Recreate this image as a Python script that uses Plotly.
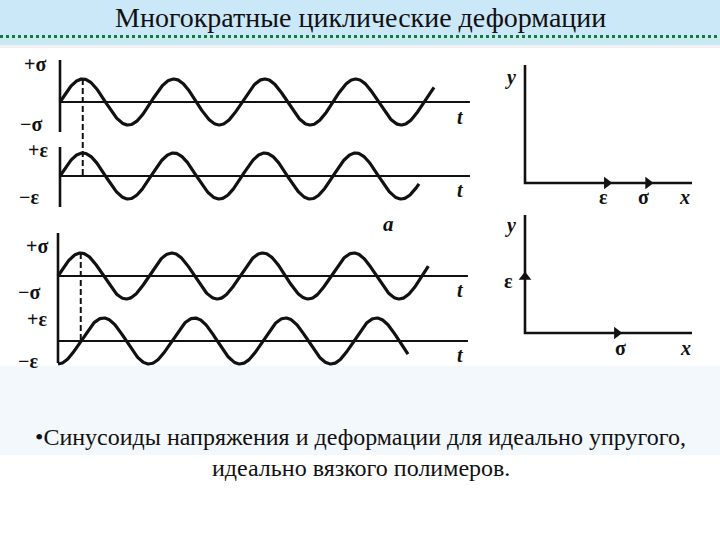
import numpy as np
import plotly.graph_objects as go

W, H = 720, 540

# ---------------- data ----------------
panel_names = ["elastic", "viscous"]
stress_len = [4.11, 4.07]          # length of stress sinusoid, periods
strain_len = [3.945, 3.846]        # length of strain sinusoid, periods
strain_lag = [0.0, 0.25]           # phase lag of strain behind stress, periods (0°, 90°)
axis_len = [4.505, 4.505]          # length of time axes, periods
first_peak = [0.25, 0.25]          # time of first stress peak, periods
left_labels = ["+σ", "−σ", "+ε", "−ε"]
vec_top_names = ["ε", "σ"]         # elastic: both vectors on x
vec_top_pos = [0.49, 0.737]
vec_bot_x_names = ["σ"]            # viscous: σ on x
vec_bot_x_pos = [0.55]
vec_bot_y_names = ["ε"]            # viscous: ε on y
vec_bot_y_pos = [0.475]

# ---------------- layout helpers ----------------
P = 91.0      # px per period
A = 23.0      # px per unit amplitude
def fx(p): return p / W
def fy(p): return 1 - p / H

panels = [
    dict(ox=60, base=102, strain_base=176, xr=[-0.45, 4.75], yr=[-4.9, 2.0],
         vaxes=[(1.826, -1.30), (-1.957, -4.565)]),
    dict(ox=58, base=276, strain_base=341, xr=[-0.45, 4.75], yr=[-4.0, 2.55],
         vaxes=[(1.87, -3.78)]),
]

fig = go.Figure()
BLK = "#111111"
layout_axes = {}

for i, pn in enumerate(panels):
    k = "" if i == 0 else str(i + 1)
    xa, ya = "x" + k, "y" + k
    dom_x = [fx(pn["ox"] + pn["xr"][0] * P), fx(pn["ox"] + pn["xr"][1] * P)]
    dom_y = [fy(pn["base"] - pn["yr"][0] * A), fy(pn["base"] - pn["yr"][1] * A)]
    layout_axes["xaxis" + k] = dict(domain=dom_x, range=pn["xr"], visible=False, anchor=ya, fixedrange=True)
    layout_axes["yaxis" + k] = dict(domain=dom_y, range=pn["yr"], visible=False, anchor=xa, fixedrange=True)
    off = -(pn["strain_base"] - pn["base"]) / A
    # time axes
    for b in (0, off):
        fig.add_trace(go.Scatter(x=[0, axis_len[i]], y=[b, b], mode="lines",
                                 line=dict(color=BLK, width=2.2), xaxis=xa, yaxis=ya, hoverinfo="skip"))
    # vertical axes
    for (y0, y1) in pn["vaxes"]:
        fig.add_trace(go.Scatter(x=[0, 0], y=[y0, y1], mode="lines",
                                 line=dict(color=BLK, width=2.6), xaxis=xa, yaxis=ya, hoverinfo="skip"))
    # stress
    t = np.linspace(0, stress_len[i], 500)
    fig.add_trace(go.Scatter(x=t, y=np.sin(2 * np.pi * t), mode="lines",
                             line=dict(color=BLK, width=3.2), xaxis=xa, yaxis=ya, hoverinfo="skip"))
    # strain
    t2 = np.linspace(0, strain_len[i], 500)
    fig.add_trace(go.Scatter(x=t2, y=off + np.sin(2 * np.pi * (t2 - strain_lag[i])), mode="lines",
                             line=dict(color=BLK, width=3.2), xaxis=xa, yaxis=ya, hoverinfo="skip"))
    # dashed marker line at first stress peak
    fig.add_trace(go.Scatter(x=[first_peak[i], first_peak[i]], y=[1, off], mode="lines",
                             line=dict(color=BLK, width=2, dash="6px,3px"), xaxis=xa, yaxis=ya, hoverinfo="skip"))

# vector diagrams
L_x, L_y = 167.0, 118.0
vecs = [dict(ox=525, oy=183), dict(ox=525, oy=333)]
for j, v in enumerate(vecs):
    k = str(j + 3)
    xa, ya = "x" + k, "y" + k
    xr, yr = [-0.15, 1.06], [-0.2, 1.08]
    layout_axes["xaxis" + k] = dict(domain=[fx(v["ox"] + xr[0] * L_x), fx(v["ox"] + xr[1] * L_x)],
                                    range=xr, visible=False, anchor=ya, fixedrange=True)
    layout_axes["yaxis" + k] = dict(domain=[fy(v["oy"] - yr[0] * L_y), fy(v["oy"] - yr[1] * L_y)],
                                    range=yr, visible=False, anchor=xa, fixedrange=True)
    fig.add_trace(go.Scatter(x=[0, 0, 1.0], y=[1.0, 0, 0], mode="lines",
                             line=dict(color=BLK, width=2.6), xaxis=xa, yaxis=ya, hoverinfo="skip"))
    if j == 0:
        fig.add_trace(go.Scatter(x=vec_top_pos, y=[0] * len(vec_top_pos), mode="markers",
                                 marker=dict(symbol="triangle-right", size=11, color=BLK),
                                 xaxis=xa, yaxis=ya, hoverinfo="skip"))
    else:
        fig.add_trace(go.Scatter(x=vec_bot_x_pos, y=[0] * len(vec_bot_x_pos), mode="markers",
                                 marker=dict(symbol="triangle-right", size=11, color=BLK),
                                 xaxis=xa, yaxis=ya, hoverinfo="skip"))
        fig.add_trace(go.Scatter(x=[0] * len(vec_bot_y_pos), y=vec_bot_y_pos, mode="markers",
                                 marker=dict(symbol="triangle-up", size=11, color=BLK),
                                 xaxis=xa, yaxis=ya, hoverinfo="skip"))

# ---------------- text ----------------
SERIF = "Liberation Serif, Times New Roman, Times, serif"
ann = []
def lab(text, px, py, size=20, italic=False, bold=True):
    t = text
    if bold:
        t = "<b>" + t + "</b>"
    if italic:
        t = "<i>" + t + "</i>"
    ann.append(dict(text=t, x=fx(px), y=fy(py), xref="paper", yref="paper", showarrow=False,
                    xanchor="center", yanchor="middle", font=dict(family=SERIF, size=size, color=BLK)))

# left labels, panel 1 and 2
for txt, px, py in zip(left_labels, [35, 31, 38, 29], [64, 124, 150, 197]):
    lab(txt, px, py)
for txt, px, py in zip(left_labels, [37, 29, 37, 28], [246, 292, 319, 361]):
    lab(txt, px, py)
for py in [117, 190, 290, 355]:
    lab("t", 461, py, italic=True)
lab("a", 388, 224, size=21, italic=True)
# vector diagram labels
lab("y", 510, 77, italic=True)
for txt, px in zip(vec_top_names, [603, 643]):
    lab(txt, px, 197)
lab("x", 684, 197, italic=True)
lab("y", 510, 225, italic=True)
lab(vec_bot_y_names[0], 508, 281)
lab(vec_bot_x_names[0], 620, 348)
lab("x", 685, 348, italic=True)

# title and caption
ann.append(dict(text="Многократные циклические деформации", x=0.5, y=fy(18), xref="paper", yref="paper",
                showarrow=False, xanchor="center", yanchor="middle",
                font=dict(family=SERIF, size=28, color="#111111")))
ann.append(dict(text="•Синусоиды напряжения и деформации для идеально упругого,", x=fx(360), y=fy(437),
                xref="paper", yref="paper", showarrow=False, xanchor="center", yanchor="middle",
                font=dict(family=SERIF, size=24, color="#111111")))
ann.append(dict(text="идеально вязкого полимеров.", x=fx(361), y=fy(468),
                xref="paper", yref="paper", showarrow=False, xanchor="center", yanchor="middle",
                font=dict(family=SERIF, size=24, color="#111111")))

shapes = [
    dict(type="rect", xref="paper", yref="paper", x0=0, x1=1, y0=fy(45), y1=1,
         fillcolor="#cbe8f8", line=dict(width=0), layer="below"),
    dict(type="rect", xref="paper", yref="paper", x0=0, x1=1, y0=fy(41), y1=fy(38),
         fillcolor="#c4eee6", line=dict(width=0), layer="below"),
    dict(type="line", xref="paper", yref="paper", x0=0, x1=1, y0=fy(36.5), y1=fy(36.5),
         line=dict(color="#16783f", width=3, dash="3px,3px"), layer="below"),
    dict(type="rect", xref="paper", yref="paper", x0=0, x1=1, y0=fy(48), y1=fy(45),
         fillcolor="#f1f1f1", line=dict(width=0), layer="below"),
    dict(type="rect", xref="paper", yref="paper", x0=0, x1=1, y0=fy(455), y1=fy(366),
         fillcolor="#f3f8fd", line=dict(width=0), layer="below"),
]

fig.update_layout(
    width=W, height=H, margin=dict(l=0, r=0, t=0, b=0),
    paper_bgcolor="white", plot_bgcolor="rgba(0,0,0,0)",
    showlegend=False, annotations=ann, shapes=shapes, **layout_axes,
)
fig.write_html("out.html", config={"displayModeBar": False, "staticPlot": True},
               post_script="document.body.style.margin='0';document.body.style.padding='0';document.body.style.overflow='hidden';")
